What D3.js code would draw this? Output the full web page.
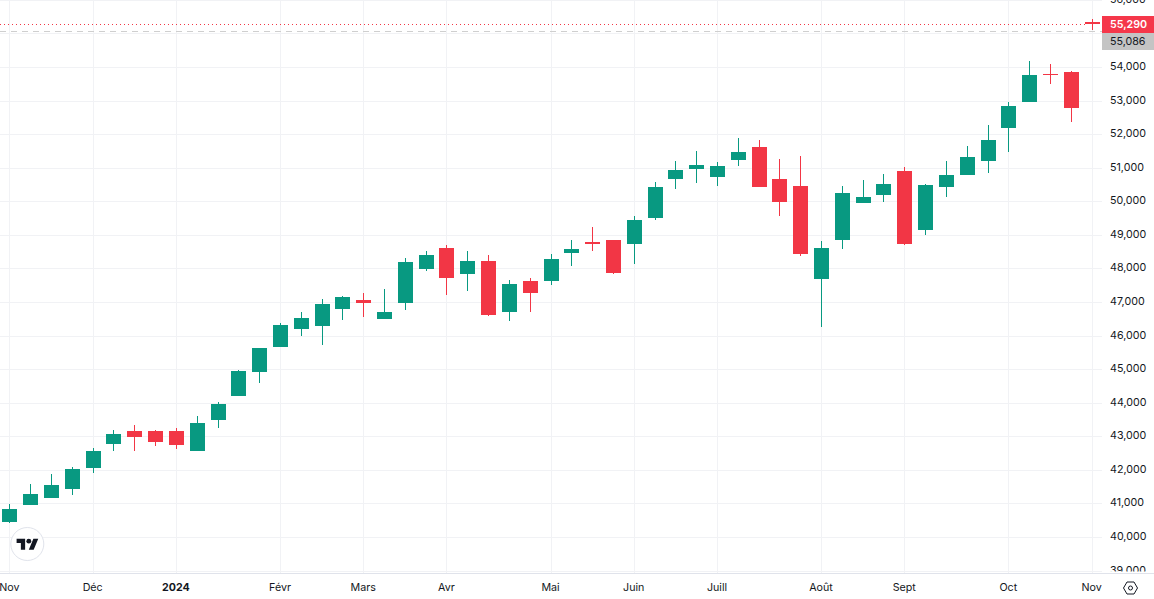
<!DOCTYPE html>
<head>
<meta charset="utf-8">
<script src="https://d3js.org/d3.v7.min.js"></script>
<style>
    html,body{margin:0;padding:0;background:#fff;overflow:hidden}
    text{font-family:"Inter",sans-serif;font-size:10.7px;fill:#131722}
    .domain{display:none}
</style>
</head>
<body>
<div id="container"></div>
<script>
    // weekly candles
    var opens = [40460,40970,41180,41440,42070,42780,43170,43170,43170,42580,43500,44210,44930,45670,46210,46300,46810,47070,46510,46990,48000,48620,47850,48240,46720,47640,47640,48470,48800,48860,48740,49520,50680,50980,50740,51240,51630,50680,50470,47700,48860,49960,50200,50920,49160,50440,50800,51210,52200,52970,53810,53870,55350];
    var highs = [41000,41590,41890,42100,42670,43200,43350,43200,43260,43620,44030,44990,45640,46390,46720,47100,47190,47280,47400,48330,48530,48710,48530,48420,47670,47730,48440,48860,49250,48860,49580,50590,51210,51510,51190,51900,51840,51270,51360,48830,50470,50650,50830,51040,50530,51210,51660,52290,52970,54190,54100,53900,55440];
    var lows = [40430,40970,41170,41260,41920,42580,42580,42720,42630,42580,43260,44210,44600,45670,46000,45730,46480,46570,46510,46780,47940,47220,47340,46600,46450,46720,47520,48090,48530,47850,48150,49460,50380,50560,50470,51070,50440,49580,48380,46270,48590,49960,49990,48710,49010,50140,50800,50860,51480,52970,53510,52380,55120];
    var closes = [40850,41300,41560,42040,42580,43080,42990,42840,42750,43410,43980,44960,45640,46330,46540,46960,47160,46990,46720,48210,48420,47730,48240,46630,47550,47280,48300,48590,48740,47880,49460,50440,50950,51100,51070,51480,50440,49990,48440,48620,50260,50140,50530,48740,50500,50800,51330,51840,52850,53780,53780,52790,55290];

    var gridTicks = [39000,40000,41000,42000,43000,44000,45000,46000,47000,48000,49000,50000,51000,52000,53000,54000,55000,56000];
    // 55,000 sits under the price boxes in the picture
    var priceTicks = [39000,40000,41000,42000,43000,44000,45000,46000,47000,48000,49000,50000,51000,52000,53000,54000,56000];
    var timeIndex = [0,4,8,13,17,21,26,30,34,39,43,48,52];
    var timeLabels = ['Nov','Déc','2024','Févr','Mars','Avr','Mai','Juin','Juill','Août','Sept','Oct','Nov'];

    var lastPrice = 55290, prevPrice = 55086;

    var width = 1154, height = 599, plotRight = 1102, plotBottom = 573;
    var up = '#089981', down = '#f23645', gridColor = '#f1f2f5';

    var svg = d3.select('#container').append('svg').attr('width',width).attr('height',height).style('display','block');

    var x = d3.scaleLinear().domain([0,52]).range([9.945,1092.065]);
    var y = d3.scaleLinear().domain([54000,40000]).range([67.5,537.5]);
    var px = v => Math.floor(x(v));
    var py = v => Math.round(y(v));

    svg.append('clipPath').attr('id','plotClip').append('rect').attr('x',0).attr('y',0).attr('width',plotRight).attr('height',plotBottom);

    //网格
    var grid = svg.append('g').attr('shape-rendering','crispEdges').attr('clip-path','url(#plotClip)');
    grid.selectAll('line.h').data(gridTicks).enter().append('line').attr('class','h')
        .attr('x1',0).attr('x2',plotRight)
        .attr('y1',d => Math.floor(y(d))+.5).attr('y2',d => Math.floor(y(d))+.5)
        .attr('stroke',gridColor);
    grid.selectAll('line.v').data(timeIndex).enter().append('line').attr('class','v')
        .attr('y1',0).attr('y2',plotBottom)
        .attr('x1',d => px(d)+.5).attr('x2',d => px(d)+.5)
        .attr('stroke',gridColor);

    //candles
    var candles = svg.append('g').attr('shape-rendering','crispEdges').attr('clip-path','url(#plotClip)');
    var candle = candles.selectAll('g').data(d3.range(opens.length)).enter().append('g')
        .attr('fill',i => closes[i] >= opens[i] ? up : down);
    candle.append('rect')
        .attr('x',i => px(i)).attr('width',1)
        .attr('y',i => py(highs[i]))
        .attr('height',i => Math.max(1,py(lows[i])-py(highs[i])));
    candle.append('rect')
        .attr('x',i => px(i)-7).attr('width',15)
        .attr('y',i => py(Math.max(opens[i],closes[i])))
        .attr('height',i => Math.max(1,py(Math.min(opens[i],closes[i]))-py(Math.max(opens[i],closes[i]))));

    //price lines
    svg.append('line').attr('x1',0).attr('x2',1085)
        .attr('y1',py(lastPrice)+.5).attr('y2',py(lastPrice)+.5)
        .attr('stroke',down).attr('stroke-dasharray','1,3').attr('shape-rendering','crispEdges');
    svg.append('line').attr('x1',0).attr('x2',plotRight)
        .attr('y1',py(prevPrice)+.5).attr('y2',py(prevPrice)+.5)
        .attr('stroke','#cfcfcf').attr('stroke-dasharray','6,5').attr('shape-rendering','crispEdges');

    //price axis
    var priceAxis = d3.axisRight(y).tickValues(priceTicks).tickSize(0).tickPadding(0).tickFormat(d3.format(','));
    svg.append('clipPath').attr('id','priceClipLocal').append('rect').attr('x',-8).attr('y',0).attr('width',52).attr('height',plotBottom);
    svg.append('g').attr('transform','translate(1110,-1.5)').attr('clip-path','url(#priceClipLocal)').call(priceAxis);

    svg.append('rect').attr('x',plotRight).attr('y',16).attr('width',52).attr('height',17).attr('fill','#f5374a');
    svg.append('rect').attr('x',plotRight).attr('y',33).attr('width',52).attr('height',17).attr('fill','#c4c4c4');
    svg.append('text').attr('x',1110).attr('y',28).text(d3.format(',')(lastPrice)).style('fill','#fff').style('font-weight','600');
    svg.append('text').attr('x',1110).attr('y',45).text(d3.format(',')(prevPrice));

    //time axis
    var timeAxis = d3.axisBottom(x).tickValues(timeIndex).tickSize(0).tickPadding(0)
        .tickFormat((d,i) => timeLabels[i]);
    var timeG = svg.append('g').attr('transform','translate(-1,583.5)').call(timeAxis);
    timeG.selectAll('text').attr('y',0).attr('dy','.71em').style('font-weight',(d,i) => timeLabels[i]=='2024' ? 'bold' : 'normal');

    svg.append('line').attr('x1',0).attr('x2',width).attr('y1',573.5).attr('y2',573.5)
        .attr('stroke','#e0e3eb').attr('shape-rendering','crispEdges');

    //logo
    var logo = svg.append('g').attr('transform','translate(27.3,544)');
    logo.append('circle').attr('r',16.5).attr('fill','#fff').attr('stroke','#e0e3eb');
    var mark = logo.append('g').attr('transform','translate(-10.7,-7.7) scale(.61)').attr('fill','#131722');
    mark.append('path').attr('d','M14 22H7V11H0V4h14v18zM28 22h-8l7.5-18h8L28 22z');
    mark.append('circle').attr('cx',20).attr('cy',8).attr('r',4);

    //settings icon
    var gear = svg.append('g').attr('transform','translate(1130.5,588)').attr('fill','none').attr('stroke','#131722').attr('stroke-width',1);
    gear.append('path').attr('d','M-7 0L-3.5-6H3.5L7 0L3.5 6H-3.5Z').attr('stroke-linejoin','round');
    gear.append('circle').attr('r',2);
</script>
</body>
